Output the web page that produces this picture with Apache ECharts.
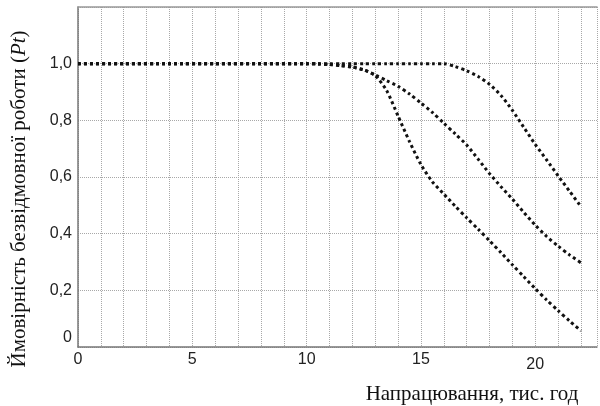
<!DOCTYPE html>
<html>
<head>
<meta charset="utf-8">
<script src="https://cdn.jsdelivr.net/npm/echarts@6/dist/echarts.min.js"></script>
<style>
  html, body { margin: 0; padding: 0; background: #fff; }
  #chart { width: 600px; height: 406px; }
</style>
</head>
<body>
<div id="chart"></div>
<script>
// напрацювання, тис. год
var hours = [0, 2, 4, 6, 8, 10, 10.5, 11, 11.5, 12, 12.5, 13, 13.5, 14, 14.5, 15, 15.5, 16, 16.5, 17, 17.5, 18, 18.5, 19, 19.5, 20, 20.5, 21, 21.5, 22];
// ймовірність безвідмовної роботи, три криві
var pSteep = [1, 1, 1, 1, 1, 1, 0.999, 0.997, 0.993, 0.988, 0.978, 0.958, 0.905, 0.815, 0.725, 0.644, 0.583, 0.54, 0.497, 0.456, 0.416, 0.375, 0.333, 0.29, 0.248, 0.206, 0.166, 0.128, 0.092, 0.057];
var pMiddle = [1, 1, 1, 1, 1, 1, 0.999, 0.997, 0.993, 0.988, 0.978, 0.96, 0.94, 0.92, 0.893, 0.861, 0.828, 0.79, 0.752, 0.713, 0.663, 0.612, 0.566, 0.522, 0.475, 0.43, 0.39, 0.356, 0.325, 0.297];
var pLate = [1, 1, 1, 1, 1, 1, 1, 1, 1, 1, 1, 1, 1, 1, 1, 1, 1, 1, 0.99, 0.975, 0.955, 0.927, 0.888, 0.835, 0.775, 0.715, 0.66, 0.604, 0.55, 0.495];
var xLabels = [0, 5, 10, 15, 20];

var SANS = 'Liberation Sans';

function pairs(xs, ys) {
    var out = [];
    for (var i = 0; i < xs.length; i++) {
        out.push([xs[i], ys[i]]);
    }
    return out;
}

var chart = echarts.init(document.getElementById('chart'));

var dotted = {
    color: '#111',
    width: 3,
    type: [3, 3],
    cap: 'butt'
};
var gridLine = { show: true, lineStyle: { color: '#a8a8a8', type: [1, 1], width: 1 } };

function makeLine(name, ys) {
    return {
        name: name,
        type: 'line',
        data: pairs(hours, ys),
        symbol: 'none',
        smooth: 0.25,
        lineStyle: dotted,
        silent: true
    };
}

var option = {
    animation: false,
    textStyle: { fontFamily: SANS },
    grid: { left: 78, top: 7, right: 0, bottom: 59 },
    xAxis: [{
        type: 'value',
        min: 0,
        max: 22.7,
        interval: 1,
        axisLine: { show: true, lineStyle: { color: '#777', width: 1.5 } },
        axisTick: { show: false },
        splitLine: gridLine,
        axisLabel: {
            margin: 5,
            color: '#222',
            fontFamily: SANS,
            fontSize: 16,
            formatter: function (v) {
                if (xLabels.indexOf(v) < 0) return '';
                return v === 20 ? '{low|20}' : String(v);
            },
            rich: { low: { fontFamily: SANS, fontSize: 16, color: '#222', padding: [5, 0, 0, 0] } }
        }
    }, {
        type: 'value',
        position: 'top',
        min: 0,
        max: 22.7,
        axisLine: { show: true, lineStyle: { color: '#999', width: 1.5 } },
        axisTick: { show: false },
        axisLabel: { show: false },
        splitLine: { show: false }
    }],
    yAxis: {
        type: 'value',
        min: 0,
        max: 1.2,
        interval: 0.2,
        axisLine: { show: true, lineStyle: { color: '#777', width: 1.5 } },
        axisTick: { show: false },
        splitLine: gridLine,
        axisLabel: {
            margin: 6,
            color: '#222',
            fontFamily: SANS,
            fontSize: 16,
            formatter: function (v) {
                if (v > 1.1) return '';
                if (v === 0) return '{zero|0}';
                return v.toFixed(1).replace('.', ',');
            },
            rich: { zero: { fontFamily: SANS, fontSize: 16, color: '#222', padding: [0, 0, 18, 0] } }
        }
    },
    graphic: [{
        type: 'text',
        x: 19,
        y: 199,
        rotation: Math.PI / 2,
        style: {
            text: 'Ймовірність безвідмовної роботи ({it|Pt})',
            font: '21px "Liberation Serif"',
            fill: '#111',
            align: 'center',
            verticalAlign: 'middle',
            rich: { it: { font: 'italic 21px "Liberation Serif"', fill: '#111' } }
        }
    }, {
        type: 'text',
        x: 472,
        y: 394,
        style: {
            text: 'Напрацювання, тис. год',
            font: '21px "Liberation Serif"',
            fill: '#111',
            align: 'center',
            verticalAlign: 'middle'
        }
    }],
    series: [
        makeLine('steep', pSteep),
        makeLine('middle', pMiddle),
        makeLine('late', pLate)
    ]
};

chart.setOption(option);
</script>
</body>
</html>
